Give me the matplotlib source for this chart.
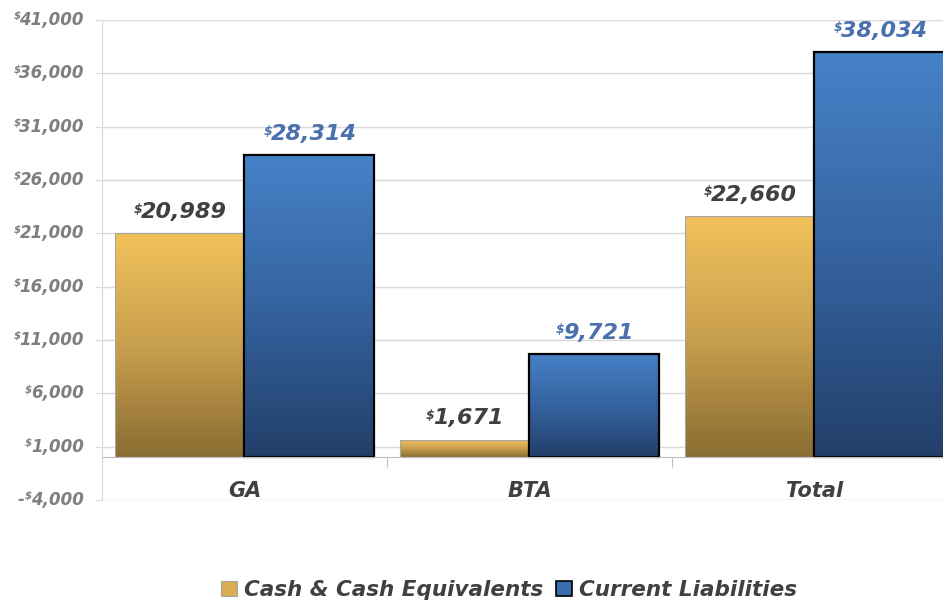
import numpy as np
import matplotlib
matplotlib.use("Agg")
import matplotlib.pyplot as plt
from matplotlib.colors import LinearSegmentedColormap
from matplotlib.patches import Patch

categories = ["GA", "BTA", "Total"]
series_names = ["Cash & Cash Equivalents", "Current Liabilities"]
cash_values = [20989, 1671, 22660]
liab_values = [28314, 9721, 38034]
y_ticks = [-4000, 1000, 6000, 11000, 16000, 21000, 26000, 31000, 36000, 41000]

plt.rcParams['font.family'] = ['DejaVu Sans']
FONT = dict(fontweight='bold', fontstyle='italic')

fig = plt.figure(figsize=(9.43, 6.03), dpi=100)
ax = fig.add_axes([102/943, 1-500/603, 855/943, 480/603])

gold_cmap = LinearSegmentedColormap.from_list("gold", ["#8A6D33", "#C9A04E", "#F1C25B"])
blue_cmap = LinearSegmentedColormap.from_list("blue", ["#223F69", "#3563A0", "#4682C8"])

x = np.arange(len(categories))
w = 0.456
bars_c = ax.bar(x - w/2, cash_values, width=w, facecolor='none', edgecolor='#A6A6A6', linewidth=0.8, zorder=4)
bars_l = ax.bar(x + w/2, liab_values, width=w, facecolor='none', edgecolor='black', linewidth=1.6, zorder=4)

grad = np.linspace(0, 1, 256).reshape(-1, 1)
for bars, cmap in ((bars_c, gold_cmap), (bars_l, blue_cmap)):
    for b in bars:
        x0, y0 = b.get_x(), b.get_y()
        im = ax.imshow(grad, extent=[x0, x0 + b.get_width(), y0, y0 + b.get_height()],
                       origin='lower', cmap=cmap, aspect='auto', zorder=3)
        im.set_clip_path(b)

# data labels with superscript dollar
for bars, vals, col in ((bars_c, cash_values, '#404040'), (bars_l, liab_values, '#4A71AE')):
    for b, v in zip(bars, vals):
        t = ax.annotate(f"{v:,}", xy=(b.get_x() + b.get_width()/2, b.get_height()),
                        xytext=(3, 8), textcoords='offset points', ha='center', va='bottom',
                        fontsize=16, color=col, zorder=6, **FONT)
        ax.annotate("$", xy=(0, 1), xycoords=t, xytext=(1, -0.5), textcoords='offset points',
                    ha='right', va='top', fontsize=9, color=col, zorder=6, **FONT)

ax.set_xlim(-0.5, 2.5)
ax.set_ylim(-4000, 41000)
ax.set_yticks(y_ticks)
ax.yaxis.grid(True, color='#D9D9D9', linewidth=1)
ax.set_axisbelow(True)
ax.tick_params(axis='y', labelleft=False, length=5, color='#D9D9D9', direction='out')

# y tick labels with superscript dollar
for v in y_ticks:
    t = ax.annotate(f"{abs(v):,}", xy=(0, v), xycoords=ax.get_yaxis_transform(),
                    xytext=(-13, 0), textcoords='offset points', ha='right', va='center',
                    fontsize=12, color='#7F7F7F', annotation_clip=False, **FONT)
    d = ax.annotate("$", xy=(0, 1), xycoords=t, xytext=(1, 0), textcoords='offset points',
                    ha='right', va='top', fontsize=7.5, color='#7F7F7F', annotation_clip=False, **FONT)
    if v < 0:
        ax.annotate("-", xy=(0, 0.5), xycoords=t, xytext=(-5, 0), textcoords='offset points',
                    ha='right', va='center', fontsize=12, color='#7F7F7F', annotation_clip=False, **FONT)

for s in ('top', 'right'):
    ax.spines[s].set_visible(False)
ax.spines['left'].set_color('#D9D9D9')
ax.spines['bottom'].set_position(('data', 0))
ax.spines['bottom'].set_color('#BFBFBF')
ax.spines['bottom'].set_zorder(5)

ax.set_xticks([-0.5, 0.5, 1.5, 2.5])
ax.set_xticklabels([])
ax.tick_params(axis='x', which='major', length=7, color='#BFBFBF', direction='out')
ax.set_xticks(x, minor=True)
ax.set_xticklabels(categories, minor=True, fontsize=15, color='#404040', **FONT)
ax.tick_params(axis='x', which='minor', length=0, pad=17)

handles = [Patch(facecolor='#D9AE52', edgecolor='#A6A6A6', linewidth=0.8),
           Patch(facecolor='#3A6DB0', edgecolor='black', linewidth=1.2)]
leg = fig.legend(handles, series_names, loc='center', bbox_to_anchor=(509/943, 1-590/603),
                 ncol=2, frameon=False, handlelength=0.75, handleheight=0.75, handletextpad=0.3,
                 columnspacing=0.6, prop=dict(size=15.5, weight='bold', style='italic'))
for txt in leg.get_texts():
    txt.set_color('#404040')

fig.savefig("out.png", dpi=100)
